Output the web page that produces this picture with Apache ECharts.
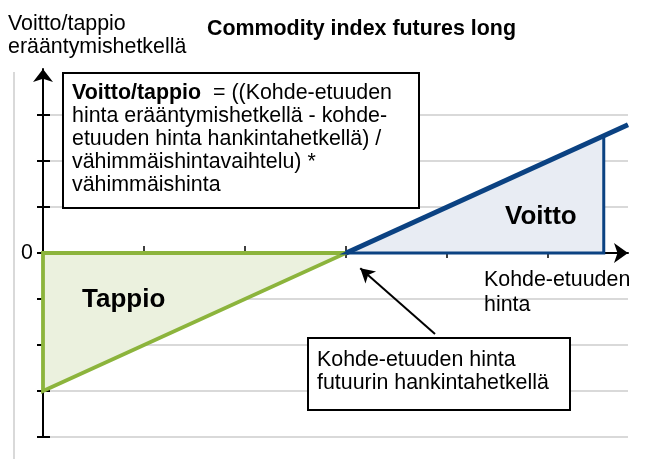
<!DOCTYPE html>
<html>
<head>
<meta charset="utf-8">
<script src="https://cdn.jsdelivr.net/npm/echarts@6/dist/echarts.min.js"></script>
<style>
html,body{margin:0;padding:0;background:#fff;}
#chart{width:651px;height:459px;}
</style>
</head>
<body>
<div id="chart"></div>
<script>
// ---- data ----
const xTickValues = [1, 2, 3, 4, 5];
const yTickValues = [-4, -3, -2, -1, 0, 1, 2, 3];
const yLabelValues = [0];
const payoffX = [0, 3, 5.79];
const payoffY = [-3, 0, 2.79];
const lossX = [0, 3, 0];
const lossY = [0, 0, -3];
const gainX = [3, 5.55, 5.55];
const gainY = [0, 0, 2.55];
const pointerFrom = [3.88, -1.76];
const pointerTo = [3.14, -0.33];

const titleText = 'Commodity index futures long';
const yName = 'Voitto/tappio\nerääntymishetkellä';
const xName = 'Kohde-etuuden\nhinta';
const lossLabel = 'Tappio';
const gainLabel = 'Voitto';
const formulaText = '{b|Voitto/tappio}  = ((Kohde-etuuden\nhinta erääntymishetkellä - kohde-\netuuden hinta hankintahetkellä) /\nvähimmäishintavaihtelu) *\nvähimmäishinta';
const noteText = 'Kohde-etuuden hinta\nfutuurin hankintahetkellä';

const FONT = '"Liberation Sans", Arial, sans-serif';
const FS = 21.4;
const NAVY = '#0b4282';
const GREEN = '#8cb43c';

const chart = echarts.init(document.getElementById('chart'));

function polygonSeries(xs, ys, fill, stroke, lw, z) {
  return {
    type: 'custom',
    xAxisIndex: 0, yAxisIndex: 0,
    z: z,
    silent: true,
    data: xs.map((x, i) => [x, ys[i]]),
    renderItem: function (params, api) {
      if (params.dataIndex !== 0) return null;
      const pts = xs.map((x, i) => api.coord([x, ys[i]]));
      return {
        type: 'polygon',
        shape: { points: pts },
        style: { fill: fill, stroke: stroke, lineWidth: lw, lineJoin: 'miter' }
      };
    }
  };
}

const option = {
  animation: false,
  backgroundColor: '#fff',
  title: {
    text: titleText,
    left: 207, top: 19, padding: 0,
    textStyle: { fontSize: FS, fontWeight: 'bold', color: '#000', fontFamily: FONT }
  },
  grid: { left: 43, right: 23, top: 69, bottom: 22 },
  xAxis: [
    {
      type: 'value', min: 0, max: 5.79, interval: 1,
      axisLine: { onZero: true, lineStyle: { color: '#000', width: 2 }, symbol: ['none', 'arrow'], symbolSize: [15, 14] },
      axisTick: { show: true, customValues: xTickValues, length: 5, lineStyle: { color: '#000', width: 1.5 } },
      axisLabel: { show: false },
      splitLine: { show: false }
    },
    {
      type: 'value', min: 0, max: 5.79, interval: 1, position: 'bottom',
      axisLine: { show: false, onZero: true },
      axisTick: { show: true, inside: true, customValues: xTickValues, length: 7, lineStyle: { color: '#000', width: 1.5 } },
      axisLabel: { show: false },
      splitLine: { show: false }
    }
  ],
  yAxis: [
    {
      type: 'value', min: -4, max: 4, interval: 1, position: 'left',
      axisLine: { show: true, onZero: false, lineStyle: { color: '#000', width: 2 }, symbol: ['none', 'arrow'], symbolSize: [15, 13] },
      axisTick: { show: true, customValues: yTickValues, length: 6, lineStyle: { color: '#000', width: 2 } },
      axisLabel: { customValues: yLabelValues, fontSize: FS, color: '#000', fontFamily: FONT, margin: 10 },
      splitLine: { show: true, lineStyle: { color: '#d9d9d9', width: 2 } }
    },
    {
      type: 'value', min: -4, max: 4, interval: 1, position: 'left',
      axisLine: { show: false, onZero: false },
      axisTick: { show: true, inside: true, customValues: yTickValues, length: 7, lineStyle: { color: '#000', width: 2 } },
      axisLabel: { show: false },
      splitLine: { show: false }
    }
  ],
  series: [
    {
      type: 'line', xAxisIndex: 0, yAxisIndex: 0, z: 3,
      data: payoffX.map((x, i) => [x, payoffY[i]]),
      symbol: 'none', silent: true,
      lineStyle: { color: NAVY, width: 1.5 }
    },
    polygonSeries(lossX, lossY, '#ebf1de', GREEN, 3.8, 4),
    polygonSeries(gainX, gainY, '#e8ecf3', NAVY, 3, 4),
    {
      type: 'line', xAxisIndex: 0, yAxisIndex: 0, z: 5,
      data: payoffX.slice(1).map((x, i) => [x, payoffY[i + 1]]),
      symbol: 'none', silent: true,
      lineStyle: { color: NAVY, width: 5 },
      markLine: {
        silent: true, animation: false,
        symbol: ['none', 'arrow'], symbolSize: [12, 14],
        label: { show: false },
        lineStyle: { color: '#000', width: 2, type: 'solid' },
        data: [[{ coord: pointerFrom }, { coord: pointerTo }]]
      }
    }
  ],
  graphic: [
    { type: 'rect', z: 1, silent: true, shape: { x: 13, y: 72, width: 2, height: 400 }, style: { fill: '#d9d9d9' } },
    { type: 'text', z: 100, x: 8, y: 13, style: { text: yName, font: FS + 'px ' + FONT, fill: '#000', lineHeight: 23, verticalAlign: 'top' } },
    { type: 'text', z: 100, x: 484, y: 268, style: { text: xName, font: FS + 'px ' + FONT, fill: '#000', lineHeight: 25, verticalAlign: 'top' } },
    { type: 'text', z: 100, x: 82, y: 300, style: { text: lossLabel, font: 'bold 26px ' + FONT, fill: '#000', verticalAlign: 'middle' } },
    { type: 'text', z: 100, x: 505, y: 217, style: { text: gainLabel, font: 'bold 26px ' + FONT, fill: '#000', verticalAlign: 'middle' } },
    { type: 'rect', z: 100, silent: true, shape: { x: 63, y: 73, width: 356, height: 135 }, style: { fill: '#fff', stroke: '#000', lineWidth: 2 } },
    { type: 'text', z: 101, x: 72, y: 82, style: {
        text: formulaText, font: FS + 'px ' + FONT, fill: '#000', lineHeight: 23, verticalAlign: 'top',
        rich: { b: { font: 'bold ' + FS + 'px ' + FONT, fill: '#000', lineHeight: 23 } }
      } },
    { type: 'rect', z: 100, silent: true, shape: { x: 308, y: 338, width: 262, height: 72 }, style: { fill: '#fff', stroke: '#000', lineWidth: 2 } },
    { type: 'text', z: 101, x: 317, y: 349, style: { text: noteText, font: FS + 'px ' + FONT, fill: '#000', lineHeight: 23, verticalAlign: 'top' } }
  ]
};

chart.setOption(option);
</script>
</body>
</html>
